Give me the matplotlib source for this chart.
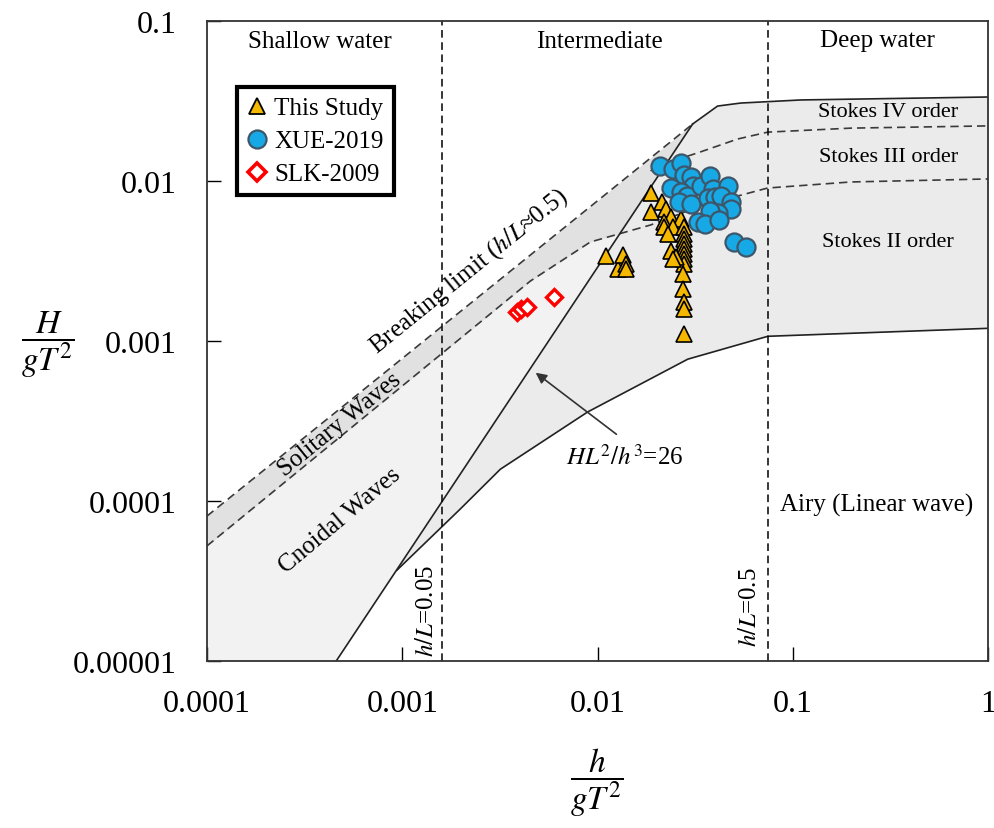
import numpy as np
import matplotlib
matplotlib.use('Agg')
import matplotlib.pyplot as plt
from matplotlib.lines import Line2D

plt.rcParams['font.family'] = 'Liberation Serif'
plt.rcParams['mathtext.fontset'] = 'stix'

# --- data (h/gT2, H/gT2) ---
study_x = [0.0110, 0.01268, 0.01358, 0.01393, 0.01393,
           0.0187, 0.0215, 0.0187, 0.0223, 0.0237, 0.0218, 0.0267, 0.0218, 0.0245, 0.0276, 0.0229,
           0.0276, 0.0276, 0.0276, 0.0276, 0.0276, 0.0276, 0.0276,
           0.0237, 0.0251, 0.0245,
           0.0273, 0.0273, 0.0276, 0.0276, 0.0276]
study_y = [3.40e-3, 2.82e-3, 3.45e-3, 3.03e-3, 2.82e-3,
           8.41e-3, 7.39e-3, 6.40e-3, 6.68e-3, 5.96e-3, 5.54e-3, 5.79e-3, 5.16e-3, 5.16e-3, 5.16e-3, 4.67e-3,
           4.67e-3, 4.34e-3, 4.04e-3, 3.76e-3, 3.50e-3, 3.25e-3, 3.03e-3,
           3.65e-3, 3.35e-3, 3.25e-3,
           2.62e-3, 2.11e-3, 1.75e-3, 1.58e-3, 1.11e-3]

xue_x = [0.0210, 0.0243, 0.0267, 0.0276, 0.0300, 0.0310, 0.0237, 0.0267, 0.0289, 0.0260,
         0.0300, 0.0337, 0.0379, 0.0389, 0.0366, 0.0398, 0.0465, 0.0428, 0.0481, 0.0481,
         0.0412, 0.0379, 0.0326, 0.0354, 0.0418, 0.0498, 0.0574]
xue_y = [0.01242, 0.01189, 0.01296, 0.01090, 0.01059, 0.00931, 0.00904, 0.00853, 0.00805, 0.00739,
         0.00718, 0.00931, 0.01074, 0.00891, 0.00783, 0.00794, 0.00931, 0.00805, 0.00739, 0.00668,
         0.00631, 0.00649, 0.00554, 0.00538, 0.00570, 0.00416, 0.00387]

slk_x = [3.85e-3, 4.07e-3, 4.37e-3, 6.02e-3]
slk_y = [1.52e-3, 1.58e-3, 1.63e-3, 1.88e-3]

# region boundaries
break_x = [1e-4, 0.0307]
break_y = [8.05e-5, 0.0227]
sol_x = [1e-4, 4.53e-3, 9.20e-3, 0.0187, 0.0337, 0.0744, 0.198, 1.0]
sol_y = [5.24e-5, 2.37e-3, 4.16e-3, 5.31e-3, 6.98e-3, 9.04e-3, 9.86e-3, 0.0103]
s4_x = [0.0187, 0.0203, 0.0337, 0.0522, 0.0744, 0.198, 1.0]
s4_y = [0.01155, 0.0124, 0.0152, 0.0183, 0.0202, 0.0214, 0.0221]
top_x = [0.0307, 0.0412, 0.0541, 0.110, 1.0]
top_y = [0.0227, 0.0294, 0.0307, 0.0321, 0.0335]
urs_x = [4.59e-4, 0.0307]
urs_y = [1e-5, 0.0227]
low_x = [9.4e-4, 1.98e-3, 3.18e-3, 8.9e-3, 0.029, 0.0745, 1.0]
low_y = [3.7e-5, 8.9e-5, 1.58e-4, 3.6e-4, 7.7e-4, 1.07e-3, 1.2e-3]
hl_shallow = 1.6e-3
hl_deep = 0.0745

xticks = [1e-4, 1e-3, 1e-2, 1e-1, 1]
xlabels = ['0.0001', '0.001', '0.01', '0.1', '1']
yticks = [1e-5, 1e-4, 1e-3, 1e-2, 1e-1]
ylabels = ['0.00001', '0.0001', '0.001', '0.01', '0.1']


def loginterp(xq, xs, ys):
    return 10 ** np.interp(np.log10(xq), np.log10(xs), np.log10(ys))


fig = plt.figure(figsize=(9.94, 8.29), dpi=100)
ax = fig.add_axes([207 / 994, 1 - 662 / 829, 781 / 994, 640 / 829])
ax.set_xscale('log')
ax.set_yscale('log')
ax.set_xlim(1e-4, 1)
ax.set_ylim(1e-5, 0.1)

xg = np.logspace(-4, 0, 3000)
B = loginterp(xg, break_x, break_y)
S = loginterp(xg, sol_x, sol_y)
U = loginterp(xg, urs_x, urs_y)
L = loginterp(xg, low_x, low_y)
T = loginterp(xg, top_x, top_y)

env_lo = np.where(xg < low_x[0], np.maximum(1e-5, U), L)
env_hi = np.where(xg < top_x[0], B, T)
ax.fill_between(xg, env_lo, env_hi, color='#ebebeb', lw=0, zorder=0)
cn_lo = np.maximum(env_lo, U)
ax.fill_between(xg, cn_lo, S, where=(cn_lo < S) & (xg < 0.03), interpolate=True,
                color='#f2f2f2', lw=0, zorder=0)
sb_lo = np.maximum(S, U)
ax.fill_between(xg, sb_lo, B, where=(sb_lo < B) & (xg < 0.0307), interpolate=True,
                color='#e1e1e1', lw=0, zorder=0)

dash = dict(color='#3a3a3a', lw=1.2, ls=(0, (5, 3)), zorder=1)
ax.plot(break_x, break_y, **dash)
ax.plot(sol_x, sol_y, **dash)
ax.plot(s4_x, s4_y, **dash)
ax.plot(urs_x, urs_y, color='#222222', lw=1.2, zorder=1)
ax.plot(low_x, low_y, color='#222222', lw=1.2, zorder=1)
ax.plot(top_x, top_y, color='#222222', lw=1.2, zorder=1)
ax.axvline(hl_shallow, color='black', lw=1.1, ls=(0, (5, 3)), zorder=1)
ax.axvline(hl_deep, color='black', lw=1.1, ls=(0, (5, 3)), zorder=1)

ax.plot(study_x, study_y, ls='none', marker='^', ms=11, mfc='#f5b800', mec='black', mew=1.2, zorder=3)
ax.plot(xue_x, xue_y, ls='none', marker='o', ms=13, mfc='#17a9e6', mec='#3e566a', mew=1.6, zorder=4)
ax.plot(slk_x, slk_y, ls='none', marker='D', ms=8, mfc='white', mec='#ff0000', mew=2.4, zorder=3)

ax.set_xticks(xticks)
ax.set_xticklabels(xlabels)
ax.set_yticks(yticks)
ax.set_yticklabels(ylabels)
ax.minorticks_off()
ax.tick_params(direction='in', length=10, width=1, labelsize=23, colors='black')
ax.tick_params(axis='x', pad=20)
ax.tick_params(axis='y', pad=22)
for s in ax.spines.values():
    s.set_linewidth(1.3)
    s.set_color('#333333')

tr = ax.transAxes
ax.text(0.145, 0.969, 'Shallow water', transform=tr, ha='center', va='center', fontsize=18)
ax.text(0.503, 0.969, 'Intermediate', transform=tr, ha='center', va='center', fontsize=18)
ax.text(0.859, 0.971, 'Deep water', transform=tr, ha='center', va='center', fontsize=18)
ax.text(0.872, 0.858, 'Stokes IV order', transform=tr, ha='center', va='center', fontsize=16)
ax.text(0.873, 0.7875, 'Stokes III order', transform=tr, ha='center', va='center', fontsize=16)
ax.text(0.872, 0.656, 'Stokes II order', transform=tr, ha='center', va='center', fontsize=16)
ax.text(0.857, 0.245, 'Airy (Linear wave)', transform=tr, ha='center', va='center', fontsize=18)
ax.text(0.3355, 0.609, r'Breaking limit ($h/L$≈0.5)', transform=tr, ha='center', va='center',
        fontsize=18, rotation=39, rotation_mode='anchor')
ax.text(0.170, 0.370, 'Solitary Waves', transform=tr, ha='center', va='center',
        fontsize=18, rotation=39, rotation_mode='anchor')
ax.text(0.170, 0.220, 'Cnoidal Waves', transform=tr, ha='center', va='center',
        fontsize=18, rotation=40, rotation_mode='anchor')
ax.text(0.2817, 0.0797, r'$h/L$=0.05', transform=tr, ha='center', va='center', fontsize=18, rotation=90)
ax.text(0.695, 0.086, r'$h/L$=0.5', transform=tr, ha='center', va='center', fontsize=18, rotation=90)
ax.text(0.535, 0.319, r'$HL^{2}/h^{3}$=26', transform=tr, ha='center', va='center', fontsize=18)
ax.annotate('', xy=(4.70e-3, 6.49e-4), xytext=(0.01283, 2.55e-4),
            arrowprops=dict(arrowstyle='-|>', color='#333333', lw=1.2, mutation_scale=16))

fig.text(48 / 994, 1 - 345 / 829, r'$\dfrac{H}{gT^2}$', ha='center', va='center', fontsize=24)
fig.text(597 / 994, 1 - 783 / 829, r'$\dfrac{h}{gT^2}$', ha='center', va='center', fontsize=24)

handles = [
    Line2D([], [], ls='none', marker='^', ms=12, mfc='#f5b800', mec='black', mew=1.3),
    Line2D([], [], ls='none', marker='o', ms=13, mfc='#17a9e6', mec='#3e566a', mew=1.6),
    Line2D([], [], ls='none', marker='D', ms=9, mfc='white', mec='#ff0000', mew=2.6),
]
leg = ax.legend(handles, ['This Study', 'XUE-2019', 'SLK-2009'], loc='upper left',
                bbox_to_anchor=(0.038, 0.897), borderaxespad=0, fontsize=18,
                fancybox=False, framealpha=1, edgecolor='black', handlelength=0.8,
                handletextpad=0.3, borderpad=0.4, labelspacing=0.42)
leg.get_frame().set_linewidth(3)

fig.savefig('out.png', dpi=100)
